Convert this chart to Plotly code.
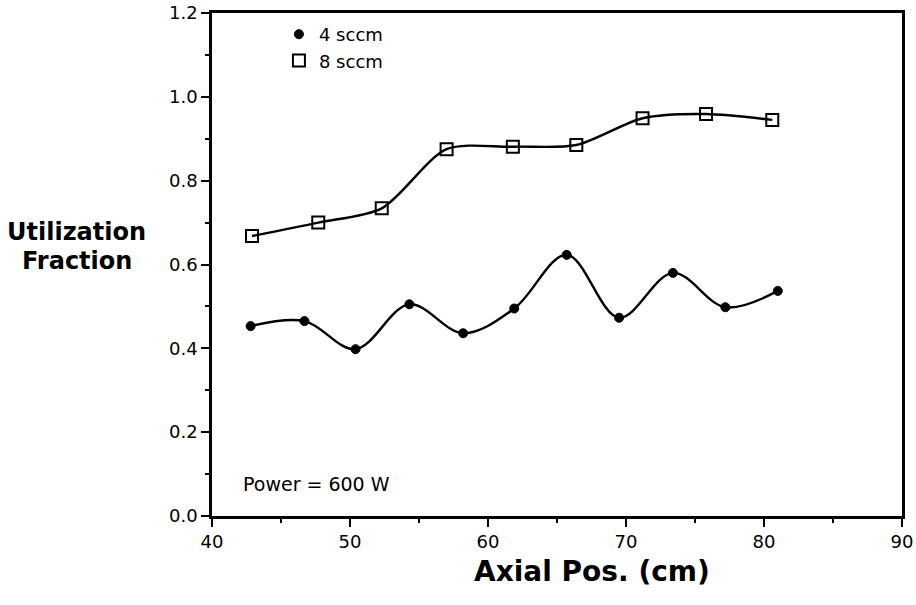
import plotly.graph_objects as go

# 4 sccm series (filled circles)
x_4sccm = [42.8, 46.7, 50.4, 54.3, 58.2, 61.9, 65.7, 69.5, 73.4, 77.2, 81.0]
y_4sccm = [0.453, 0.465, 0.398, 0.505, 0.436, 0.495, 0.623, 0.473, 0.580, 0.498, 0.537]

# 8 sccm series (open squares)
x_8sccm = [42.9, 47.7, 52.3, 57.0, 61.8, 66.4, 71.2, 75.8, 80.6]
y_8sccm = [0.668, 0.700, 0.734, 0.875, 0.881, 0.885, 0.949, 0.959, 0.945]

x_ticks = [40, 50, 60, 70, 80, 90]
y_ticks = [0.0, 0.2, 0.4, 0.6, 0.8, 1.0, 1.2]
y_tick_labels = ["0.0", "0.2", "0.4", "0.6", "0.8", "1.0", "1.2"]

FONT = "DejaVu Sans, Verdana, sans-serif"

fig = go.Figure()

# smooth curves
fig.add_trace(go.Scatter(x=x_4sccm, y=y_4sccm, mode="lines", line=dict(color="black", width=2.4, shape="spline", smoothing=1.0),
                         showlegend=False, hoverinfo="skip"))
fig.add_trace(go.Scatter(x=x_8sccm, y=y_8sccm, mode="lines", line=dict(color="black", width=2.4, shape="spline", smoothing=0.8),
                         showlegend=False, hoverinfo="skip"))

# markers
fig.add_trace(go.Scatter(x=x_4sccm, y=y_4sccm, mode="markers", name="4 sccm",
                         marker=dict(symbol="circle", size=9, color="black", line=dict(color="black", width=1))))
fig.add_trace(go.Scatter(x=x_8sccm, y=y_8sccm, mode="markers", name="8 sccm",
                         marker=dict(symbol="square-open", size=12, color="black", line=dict(color="black", width=2))))

fig.add_annotation(x=42.1, y=0.076, xref="x", yref="y", text="Power = 600 W", showarrow=False,
                   xanchor="left", yanchor="middle", font=dict(family=FONT, size=19, color="black"))

# y-axis title (horizontal, two lines)
fig.add_annotation(x=-0.1957, y=0.5646, xref="paper", yref="paper", text="<b>Utilization</b>", showarrow=False,
                   font=dict(family=FONT, size=24, color="black"), xanchor="center", yanchor="middle")
fig.add_annotation(x=-0.1957, y=0.507, xref="paper", yref="paper", text="<b>Fraction</b>", showarrow=False,
                   font=dict(family=FONT, size=24, color="black"), xanchor="center", yanchor="middle")

# x-axis title
fig.add_annotation(x=0.5507, y=-0.1113, xref="paper", yref="paper", text="<b>Axial Pos. (cm)</b>", showarrow=False,
                   font=dict(family=FONT, size=28, color="black"), xanchor="center", yanchor="middle")

fig.update_layout(
    width=916, height=605,
    margin=dict(l=212, r=14, t=13, b=89),
    paper_bgcolor="white", plot_bgcolor="white",
    font=dict(family=FONT, size=18, color="black"),
    showlegend=True,
    legend=dict(x=0.097, y=0.994, xanchor="left", yanchor="top", bgcolor="rgba(0,0,0,0)",
                font=dict(family=FONT, size=18, color="black"), itemwidth=30, tracegroupgap=0),
    xaxis=dict(range=[40, 90], tickvals=x_ticks, ticks="outside", ticklen=8, tickwidth=2, tickcolor="black",
               showline=True, linecolor="black", linewidth=2.5, mirror=True, showgrid=False, zeroline=False,
               automargin=False,
               minor=dict(dtick=5, ticks="outside", ticklen=4, tickwidth=2, tickcolor="black")),
    yaxis=dict(range=[0, 1.2], tickvals=y_ticks, ticktext=y_tick_labels, ticks="outside", ticklen=8, tickwidth=2, tickcolor="black",
               showline=True, linecolor="black", linewidth=2.5, mirror=True, showgrid=False, zeroline=False,
               automargin=False,
               minor=dict(dtick=0.1, ticks="outside", ticklen=4, tickwidth=2, tickcolor="black")),
)

fig.write_html("out.html")
